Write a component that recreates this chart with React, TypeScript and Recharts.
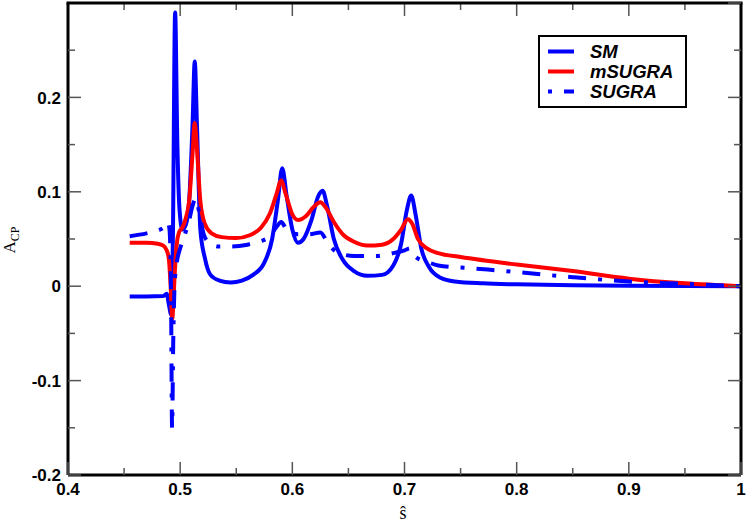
import { LineChart, Line, XAxis, YAxis, Legend, Label } from "recharts";

// SM (solid blue)
const SM_X = [0.455, 0.47, 0.485, 0.488, 0.49, 0.492, 0.4935, 0.4955, 0.4975, 0.4995, 0.502, 0.505, 0.508, 0.511, 0.513, 0.515, 0.518, 0.522, 0.527, 0.535, 0.545, 0.555, 0.565, 0.575, 0.582, 0.587, 0.591, 0.595, 0.6, 0.605, 0.61, 0.617, 0.623, 0.627, 0.631, 0.637, 0.645, 0.655, 0.667, 0.68, 0.69, 0.697, 0.702, 0.706, 0.71, 0.715, 0.722, 0.732, 0.745, 0.77, 0.8, 0.85, 0.9, 1.0];
const SM_Y = [-0.011, -0.011, -0.0105, -0.008, -0.02, -0.03, 0.05, 0.29, 0.15, 0.08, 0.06, 0.065, 0.09, 0.17, 0.238, 0.17, 0.06, 0.03, 0.012, 0.006, 0.004, 0.006, 0.012, 0.025, 0.05, 0.09, 0.125, 0.095, 0.06, 0.046, 0.05, 0.07, 0.095, 0.101, 0.085, 0.05, 0.028, 0.016, 0.011, 0.012, 0.022, 0.045, 0.08, 0.096, 0.075, 0.04, 0.02, 0.009, 0.005, 0.003, 0.002, 0.001, 0.0005, 0];

// mSUGRA (solid red)
const MSUGRA_X = [0.455, 0.47, 0.48, 0.485, 0.488, 0.49, 0.4915, 0.493, 0.494, 0.495, 0.497, 0.499, 0.502, 0.505, 0.508, 0.511, 0.513, 0.515, 0.518, 0.522, 0.528, 0.537, 0.55, 0.562, 0.572, 0.58, 0.586, 0.59, 0.594, 0.6, 0.605, 0.612, 0.619, 0.625, 0.63, 0.637, 0.645, 0.655, 0.667, 0.68, 0.69, 0.697, 0.703, 0.707, 0.712, 0.72, 0.73, 0.75, 0.8, 0.85, 0.9, 0.95, 1.0];
const MSUGRA_Y = [0.046, 0.046, 0.045, 0.043, 0.038, 0.028, 0.0, -0.035, -0.015, 0.01, 0.045, 0.057, 0.062, 0.072, 0.09, 0.14, 0.173, 0.145, 0.09, 0.066, 0.056, 0.052, 0.051, 0.054, 0.062, 0.077, 0.098, 0.112, 0.098, 0.076, 0.07, 0.074, 0.084, 0.089, 0.083, 0.068, 0.055, 0.047, 0.043, 0.044, 0.05, 0.06, 0.071, 0.066, 0.05, 0.04, 0.035, 0.031, 0.023, 0.016, 0.008, 0.003, 0];

// SUGRA (dash-dot blue)
const SUGRA_X = [0.455, 0.47, 0.48, 0.486, 0.489, 0.4905, 0.4918, 0.4928, 0.4938, 0.495, 0.497, 0.5, 0.504, 0.508, 0.511, 0.514, 0.517, 0.521, 0.526, 0.535, 0.545, 0.56, 0.57, 0.58, 0.586, 0.59, 0.595, 0.605, 0.615, 0.625, 0.632, 0.64, 0.655, 0.675, 0.69, 0.7, 0.705, 0.71, 0.72, 0.73, 0.76, 0.8, 0.85, 0.9, 0.95, 1.0];
const SUGRA_Y = [0.053, 0.056, 0.059, 0.063, 0.068, 0.06, 0.0, -0.15, -0.06, 0.0, 0.025, 0.04, 0.054, 0.07, 0.085, 0.093, 0.078, 0.055, 0.046, 0.042, 0.042, 0.044, 0.047, 0.053, 0.063, 0.068, 0.06, 0.055, 0.055, 0.057, 0.045, 0.036, 0.032, 0.032, 0.035, 0.038, 0.04, 0.031, 0.026, 0.022, 0.019, 0.015, 0.0095, 0.005, 0.0025, 0];

const X_TICKS = [0.4, 0.45, 0.5, 0.55, 0.6, 0.65, 0.7, 0.75, 0.8, 0.85, 0.9, 0.95, 1.0];
const Y_TICKS = [-0.2, -0.15, -0.1, -0.05, 0, 0.05, 0.1, 0.15, 0.2, 0.25, 0.3];
const X_MIN = 0.4;
const X_MAX = 1.0;
const Y_MAX = 0.3;

const toPoints = (xs: number[], ys: number[]) => xs.map((x, i) => ({ x, y: ys[i] }));
const smData = toPoints(SM_X, SM_Y);
const msugraData = toPoints(MSUGRA_X, MSUGRA_Y);
const sugraData = toPoints(SUGRA_X, SUGRA_Y);

const CHART_W = 747;
const CHART_H = 525;
const MARGIN = { top: 3, right: 5, bottom: 49, left: 0 };
const Y_AXIS_W = 68;
const PLOT_W = CHART_W - MARGIN.left - MARGIN.right - Y_AXIS_W - 1;

const BLUE = "#0000ff";
const RED = "#ff0000";
const DASH = "18 12 4 12";
const TICK_COLOR = "#555";
const SANS = "'Liberation Sans', Arial, sans-serif";
const SERIF = "'Liberation Serif', 'Times New Roman', serif";
const AXIS_LINE = { stroke: "#000", strokeWidth: 3 };

const isMajor = (v: number) => Math.round(v * 100) % 10 === 0;
const fmt = (v: number) => (Math.abs(v) < 1e-9 ? "0" : v === 1 ? "1" : v.toFixed(1));

function BottomTick({ x, y, payload }: any) {
    const v = payload.value;
    const major = isMajor(v);
    return (
        <g>
            <line x1={x} x2={x} y1={y} y2={y - (major ? 13 : 7)} stroke={TICK_COLOR} strokeWidth={1.5} />
            {major && (
                <text x={x} y={y + 20} textAnchor="middle" fontFamily={SANS} fontWeight="bold" fontSize={17} fill="#000">
                    {fmt(v)}
                </text>
            )}
        </g>
    );
}

// top frame drawn from the left axis' top tick: line plus inward ticks
function TopFrame({ x, y }: { x: number; y: number }) {
    return (
        <g>
            {X_TICKS.slice(1, -1).map((t) => {
                const tx = x + ((t - X_MIN) / (X_MAX - X_MIN)) * PLOT_W;
                return <line key={t} x1={tx} x2={tx} y1={y} y2={y + (isMajor(t) ? 13 : 7)} stroke={TICK_COLOR} strokeWidth={1.5} />;
            })}
            <line x1={x - 1.5} x2={x + PLOT_W + 1.5} y1={y} y2={y} stroke="#000" strokeWidth={3} />
        </g>
    );
}

function LeftTick({ x, y, payload }: any) {
    const v = payload.value;
    const major = isMajor(v);
    const isTop = Math.abs(v - Y_MAX) < 1e-9;
    return (
        <g>
            <line x1={x} x2={x + (major ? 13 : 7)} y1={y} y2={y} stroke={TICK_COLOR} strokeWidth={1.5} />
            {major && !isTop && (
                <text x={x - 7} y={y} dy="0.36em" textAnchor="end" fontFamily={SANS} fontWeight="bold" fontSize={17} fill="#000">
                    {fmt(v)}
                </text>
            )}
            {isTop && <TopFrame x={x} y={y} />}
        </g>
    );
}

function RightTick({ x, y, payload }: any) {
    const major = isMajor(payload.value);
    return <line x1={x} x2={x - (major ? 13 : 7)} y1={y} y2={y} stroke={TICK_COLOR} strokeWidth={1.5} />;
}

const legendItems = [
    { name: "SM", color: BLUE, dash: undefined },
    { name: "mSUGRA", color: RED, dash: undefined },
    { name: "SUGRA", color: BLUE, dash: "4 12 12 0" },
];

function LegendBox() {
    return (
        <div style={{ width: 149, height: 73, border: "2px solid #000", boxSizing: "border-box", background: "#fff" }}>
            <svg width={145} height={69} style={{ display: "block" }}>
                {legendItems.map((it, i) => (
                    <g key={it.name}>
                        <line x1={8} x2={34} y1={14.5 + i * 20} y2={14.5 + i * 20} stroke={it.color} strokeWidth={4} strokeDasharray={it.dash} />
                        <text x={50} y={14.5 + i * 20} dy="0.36em" fontFamily={SANS} fontWeight="bold" fontStyle="italic" fontSize={18.5} fill="#000">
                            {it.name}
                        </text>
                    </g>
                ))}
            </svg>
        </div>
    );
}

export default function App() {
    return (
        <div style={{ position: "absolute", left: 0, top: 0, width: CHART_W, height: CHART_H, background: "#fff" }}>
            <LineChart width={CHART_W} height={CHART_H} margin={MARGIN}>
                <XAxis xAxisId="b" dataKey="x" type="number" domain={[X_MIN, X_MAX]} ticks={X_TICKS} interval={0}
                    height={1} tickSize={0} tickMargin={0} tick={<BottomTick />} axisLine={AXIS_LINE}
                    allowDataOverflow>
                    <Label content={() => (
                        <text x={403} y={519} textAnchor="middle" fontFamily={SERIF} fontSize={18} fill="#000">ŝ</text>
                    )} />
                </XAxis>
                <YAxis yAxisId="l" type="number" domain={[-0.2, Y_MAX]} ticks={Y_TICKS} interval={0}
                    width={Y_AXIS_W} tickSize={0} tickMargin={0} tick={<LeftTick />} axisLine={AXIS_LINE}
                    allowDataOverflow>
                    <Label content={() => (
                        <text x={15} y={240} transform="rotate(-90, 15, 240)" textAnchor="middle" fontFamily={SERIF} fontSize={17} fill="#000">
                            A<tspan fontSize={12} dy={4}>CP</tspan>
                        </text>
                    )} />
                </YAxis>
                <YAxis yAxisId="r" orientation="right" type="number" domain={[-0.2, Y_MAX]} ticks={Y_TICKS} interval={0}
                    width={1} tickSize={0} tickMargin={0} tick={<RightTick />} axisLine={AXIS_LINE} allowDataOverflow />
                <Legend layout="horizontal" verticalAlign="middle" align="center" content={<LegendBox />}
                    wrapperStyle={{ left: 538, top: 35, width: 149, height: 73 }} />
                <Line xAxisId="b" yAxisId="l" data={smData} dataKey="y" name="SM" type="monotone" stroke={BLUE}
                    strokeWidth={4} dot={false} activeDot={false} isAnimationActive={false} />
                <Line xAxisId="b" yAxisId="l" data={msugraData} dataKey="y" name="mSUGRA" type="monotone" stroke={RED}
                    strokeWidth={4} dot={false} activeDot={false} isAnimationActive={false} />
                <Line xAxisId="b" yAxisId="l" data={sugraData} dataKey="y" name="SUGRA" type="monotone" stroke={BLUE}
                    strokeWidth={4} strokeDasharray={DASH} dot={false} activeDot={false} isAnimationActive={false} />
            </LineChart>
        </div>
    );
}
